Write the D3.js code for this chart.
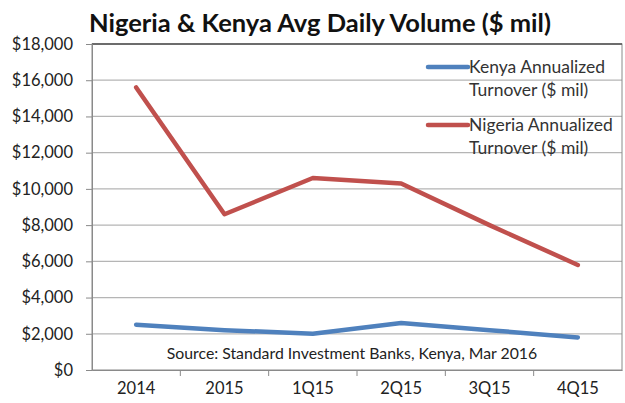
<!DOCTYPE html>
<html>
<head>
<meta charset="utf-8">
<script src="https://cdn.jsdelivr.net/npm/d3@7"></script>
<style>
  body { margin: 0; background: #fff; }
  text { font-family: Lato, "Open Sans", sans-serif; fill: #222; }
</style>
</head>
<body>
<script>
// Chart data
const categories = ["2014", "2015", "1Q15", "2Q15", "3Q15", "4Q15"];
const kenyaValues = [2500, 2200, 2000, 2600, 2200, 1800];
const nigeriaValues = [15600, 8600, 10600, 10300, 8000, 5800];
const yTicks = [0, 2000, 4000, 6000, 8000, 10000, 12000, 14000, 16000, 18000];
const seriesNames = ["Kenya Annualized|Turnover ($ mil)", "Nigeria Annualized|Turnover ($ mil)"];

(function() {
    const W = 625, H = 403;
    const margin = {top: 44, right: 3, bottom: 33, left: 92};
    const width = W - margin.left - margin.right,
        height = H - margin.top - margin.bottom;

    const svg = d3.select("body").append("svg")
        .attr("width", W)
        .attr("height", H);

    // Title
    svg.append("text")
        .attr("x", 320)
        .attr("y", 32)
        .attr("text-anchor", "middle")
        .style("font-size", "25.5px")
        .style("font-weight", "bold")
        .style("fill", "#111")
        .text("Nigeria & Kenya Avg Daily Volume ($ mil)");

    const g = svg.append("g")
        .attr("transform", "translate(" + margin.left + "," + margin.top + ")");

    const x = d3.scaleBand().domain(categories).range([0, width]);
    const y = d3.scaleLinear().domain([0, 18000]).range([height, 0]);

    // gridlines
    g.append("g")
        .selectAll("line")
        .data(yTicks.slice(1))
        .join("line")
        .attr("x1", 0).attr("x2", width)
        .attr("y1", d => y(d)).attr("y2", d => y(d))
        .attr("stroke", "#b5b5b5")
        .attr("stroke-width", 1.2);

    // frame
    g.append("rect")
        .attr("width", width).attr("height", height)
        .attr("fill", "none")
        .attr("stroke", "#8a8a8a")
        .attr("stroke-width", 1);
    g.append("line")
        .attr("x1", 0).attr("x2", width)
        .attr("y1", 0).attr("y2", 0)
        .attr("stroke", "#555").attr("stroke-width", 1.5);

    // Y axis
    const yAxis = g.append("g")
        .call(d3.axisLeft(y).tickValues(yTicks).tickSize(6).tickPadding(13)
            .tickFormat(d => "$" + d3.format(",")(d)));
    yAxis.select(".domain").attr("stroke", "#8a8a8a");
    yAxis.selectAll(".tick line").attr("stroke", "#8a8a8a");
    yAxis.selectAll("text").style("font-size", "16.5px").style("fill", "#222");

    // X axis
    const xAxis = g.append("g")
        .attr("transform", "translate(0," + height + ")")
        .call(d3.axisBottom(x).tickSize(0).tickPadding(12));
    xAxis.select(".domain").attr("stroke", "#8a8a8a");
    xAxis.selectAll("text").style("font-size", "16.5px").style("fill", "#222");
    g.append("g")
        .selectAll("line")
        .data(categories.slice(1))
        .join("line")
        .attr("x1", d => x(d)).attr("x2", d => x(d))
        .attr("y1", height).attr("y2", height + 6)
        .attr("stroke", "#8a8a8a");

    // Lines
    const line = d3.line()
        .x((d, i) => x(categories[i]) + x.bandwidth() / 2)
        .y(d => y(d));
    const colors = ["#4f81bd", "#c0504d"];
    [kenyaValues, nigeriaValues].forEach((vals, i) => {
        g.append("path")
            .datum(vals)
            .attr("fill", "none")
            .attr("stroke", colors[i])
            .attr("stroke-width", 4.5)
            .attr("stroke-linecap", "round")
            .attr("stroke-linejoin", "round")
            .attr("d", line);
    });

    // Source note
    g.append("text")
        .attr("x", 352 - margin.left)
        .attr("y", 359 - margin.top)
        .attr("text-anchor", "middle")
        .style("font-size", "15.8px")
        .text("Source: Standard Investment Banks, Kenya, Mar 2016");

    // Legend
    const legend = svg.append("g");
    const legendY = [67, 125];
    seriesNames.forEach((name, i) => {
        const ly = legendY[i];
        legend.append("rect")
            .attr("x", 408).attr("y", ly - 2)
            .attr("width", 52).attr("height", 4)
            .attr("fill", "#fff");
        legend.append("line")
            .attr("x1", 428).attr("x2", 468)
            .attr("y1", ly).attr("y2", ly)
            .attr("stroke", colors[i])
            .attr("stroke-width", 4.5)
            .attr("stroke-linecap", "round");
        const parts = name.split("|");
        parts.forEach((p, j) => {
            legend.append("text")
                .attr("x", 469)
                .attr("y", ly + 6 + j * 23)
                .style("font-size", "17.5px")
                .style("fill", "#333")
                .text(p);
        });
    });
})();
</script>
</body>
</html>
